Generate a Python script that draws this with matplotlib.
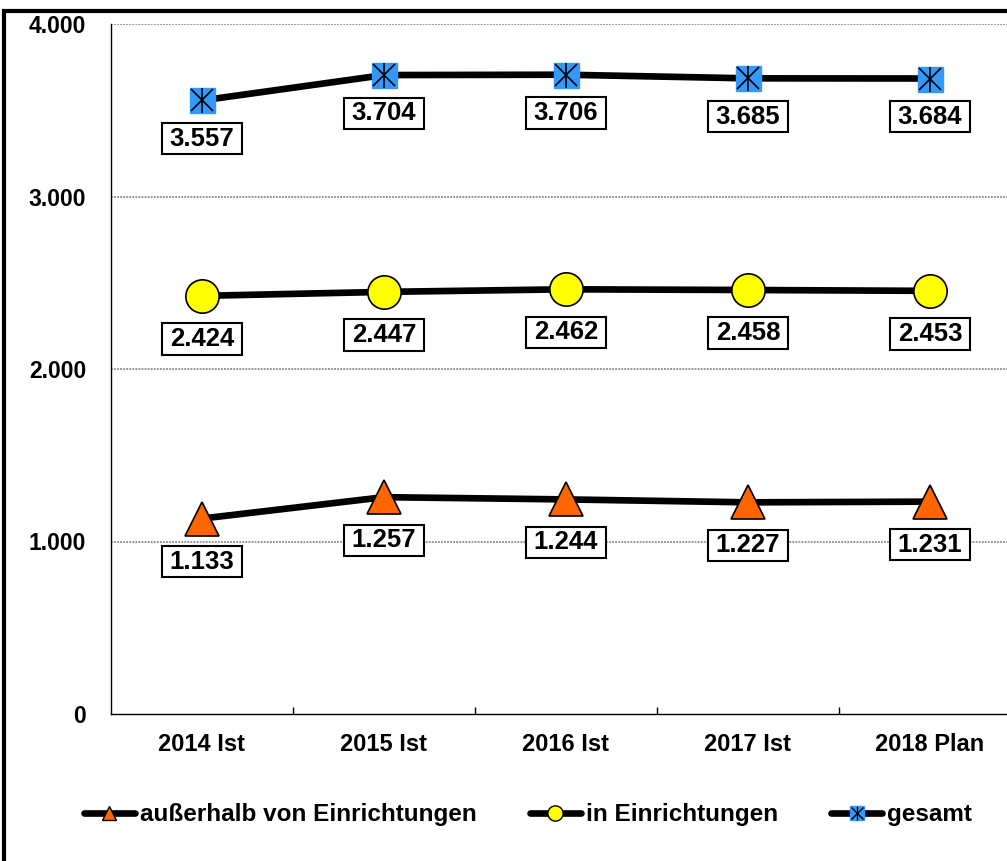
import matplotlib
matplotlib.use("Agg")
import matplotlib.pyplot as plt
from matplotlib.patches import Rectangle
from matplotlib.lines import Line2D
from matplotlib.path import Path
from matplotlib.legend_handler import HandlerTuple

categories = ["2014 Ist", "2015 Ist", "2016 Ist", "2017 Ist", "2018 Plan"]
ausserhalb = [1133, 1257, 1244, 1227, 1231]
in_einr = [2424, 2447, 2462, 2458, 2453]
gesamt = [3557, 3704, 3706, 3685, 3684]
yticks = [0, 1000, 2000, 3000, 4000]
ytick_labels = ["0", "1.000", "2.000", "3.000", "4.000"]

plt.rcParams['font.family'] = ['Liberation Sans', 'DejaVu Sans']
plt.rcParams['font.weight'] = 'bold'

W, H = 1007, 861
fig = plt.figure(figsize=(W/100, H/100), dpi=100)
ax = fig.add_axes([111/W, 1-714/H, (1021-111)/W, 690/H])

ORANGE = '#FF6600'
YELLOW = '#FFFF00'
BLUE = '#3399FF'

x = list(range(len(categories)))
lw = 4.8
ax.plot(x, ausserhalb, color='black', lw=lw, zorder=3, solid_capstyle='round')
ax.plot(x, ausserhalb, ls='none', marker='^', ms=25, mfc=ORANGE, mec='black', mew=1.2, zorder=4)
ax.plot(x, in_einr, color='black', lw=lw, zorder=3, solid_capstyle='round')
ax.plot(x, in_einr, ls='none', marker='o', ms=24, mfc=YELLOW, mec='black', mew=1.2, zorder=4)
ax.plot(x, gesamt, color='black', lw=lw, zorder=3, solid_capstyle='round')
ax.plot(x, gesamt, ls='none', marker='s', ms=18, mfc=BLUE, mec=BLUE, mew=1, zorder=4)
ax.plot(x, gesamt, ls='none', marker='x', ms=16, mec='black', mew=1.2, zorder=5)
ax.plot(x, gesamt, ls='none', marker='|', ms=18, mec='black', mew=1.2, zorder=5)


def label_box(x0, y0, width, height, mutation_size):
    px = 0.30 * mutation_size
    py = 0.14 * mutation_size
    x0, y0 = x0 - px, y0 - py
    x1, y1 = x0 + width + 2 * px, y0 + height + 2 * py
    return Path([(x0, y0), (x1, y0), (x1, y1), (x0, y1), (x0, y0)], closed=True)


def fmt(v):
    return f"{v:,}".replace(",", ".")

offsets = {0: -31, 1: -31, 2: -27.5}  # points below marker
for si, series in enumerate((ausserhalb, in_einr, gesamt)):
    for xi, v in zip(x, series):
        ax.annotate(fmt(v), (xi, v), xytext=(0, offsets[si]), textcoords='offset points',
                    ha='center', va='center', fontsize=18.5, fontweight='bold',
                    bbox=dict(boxstyle=label_box, fc='white', ec='black', lw=1.5),
                    zorder=6)

ax.set_xlim(-0.5, 4.5)
ax.set_ylim(0, 4000)
ax.set_yticks(yticks)
ax.set_yticklabels(ytick_labels, fontsize=16.5, fontweight='bold')
ax.tick_params(axis='y', length=0, pad=18)
ax.set_xticks(x)
ax.set_xticklabels(categories, fontsize=17, fontweight='bold')
ax.tick_params(axis='x', which='major', length=0, pad=14)
ax.set_xticks([0.5, 1.5, 2.5, 3.5], minor=True)
ax.tick_params(axis='x', which='minor', direction='in', length=5, width=1)
for yv in yticks[1:]:
    ax.axhline(yv, color='#777777', lw=1.1, ls=(0, (1.2, 0.8)), zorder=1)
ax.spines['top'].set_visible(False)
ax.spines['right'].set_visible(False)
ax.spines['left'].set_linewidth(1)
ax.spines['bottom'].set_linewidth(1)

h1 = Line2D([], [], color='black', lw=lw, marker='^', ms=10, mfc=ORANGE, mec='black', mew=1,
            solid_capstyle='round')
h2 = Line2D([], [], color='black', lw=lw, marker='o', ms=11, mfc=YELLOW, mec='black', mew=1,
            solid_capstyle='round')
h3 = (Line2D([], [], color='black', lw=lw, solid_capstyle='round'),
      Line2D([], [], ls='none', marker='s', ms=10, mfc=BLUE, mec=BLUE),
      Line2D([], [], ls='none', marker='x', ms=8, mec='black', mew=1),
      Line2D([], [], ls='none', marker='|', ms=10, mec='black', mew=1))
leg = fig.legend([h1, h2, h3],
                 ["außerhalb von Einrichtungen", "in Einrichtungen", "gesamt"],
                 handler_map={tuple: HandlerTuple(ndivide=1, pad=0)},
                 loc='center', bbox_to_anchor=(528/W, 1-815/H), ncol=3, frameon=False,
                 prop={'size': 17.5, 'weight': 'bold'}, handlelength=2.1, handletextpad=0.2,
                 columnspacing=2.2)

fig.patches.append(Rectangle((4/W, -0.1), 1.2, (1-11/H)+0.1, transform=fig.transFigure,
                             fill=False, ec='black', lw=3, clip_on=False))

fig.savefig("out.png", dpi=100)
